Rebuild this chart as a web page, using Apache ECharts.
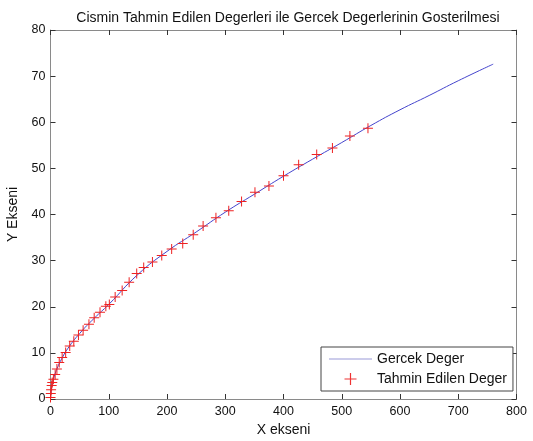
<!DOCTYPE html>
<html><head><meta charset="utf-8">
<script src="https://cdn.jsdelivr.net/npm/echarts@6/dist/echarts.min.js"></script>
<style>html,body{margin:0;padding:0;background:#fff}#c{width:533px;height:441px}</style>
</head><body><div id="c"></div>
<script>
var titleText = 'Cismin Tahmin Edilen Degerleri ile Gercek Degerlerinin Gosterilmesi';
var xName = 'X ekseni';
var yName = 'Y Ekseni';
var lineName = 'Gercek Deger';
var markName = 'Tahmin Edilen Deger';
// true curve
var lineX = [0, 2, 5, 10, 20, 30, 50, 75, 100, 150, 200, 250, 300, 350, 400, 450, 500, 550, 600, 650, 700, 760];
var lineY = [0, 2.5, 4.2, 6.2, 8.9, 11, 14.2, 17.5, 20.5, 27, 32, 36.2, 40.5, 44.4, 48.3, 52, 55.6, 59.3, 62.7, 65.8, 69, 72.6];
// estimated values (markers)
var markX = [0, 0.5, 1, 2, 3, 5, 8, 11, 15, 20, 26, 33, 40, 48, 56, 66, 75, 85, 95, 101, 111, 123, 135, 148, 160, 175, 191, 208, 227, 245, 262, 284, 306, 328, 351, 375, 400, 426, 457, 484, 514, 545];
var markY = [0.3, 1.2, 2.0, 2.9, 3.6, 4.3, 5.3, 6.5, 7.9, 9.0, 10.1, 11.5, 12.5, 13.9, 14.9, 16.2, 17.6, 18.8, 20.1, 20.5, 22.1, 23.5, 25.3, 27.2, 28.5, 29.7, 31.1, 32.5, 33.7, 35.6, 37.5, 39.3, 40.8, 42.8, 44.8, 46.2, 48.4, 50.8, 53.0, 54.4, 57.0, 58.7];

var lineData = lineX.map(function(x, i){ return [x, lineY[i]]; });
var markData = markX.map(function(x, i){ return [x, markY[i]]; });
var cross = 'path://M4.5,0H5.5V4.5H10V5.5H5.5V10H4.5V5.5H0V4.5H4.5Z';
var lineIcon = 'path://M0,0H44V1.2H0Z';
var axisCol = '#8a8a8a';
var font = 'Liberation Sans, Arial, sans-serif';

var chart = echarts.init(document.getElementById('c'), null, {renderer: 'canvas'});
var baseAxis = {
  axisLine: {show: true, onZero: false, lineStyle: {color: axisCol, width: 1}},
  axisTick: {show: true, inside: true, length: 5, lineStyle: {color: '#333'}},
  splitLine: {show: false}
};
chart.setOption({
  animation: false,
  backgroundColor: '#fff',
  title: {text: titleText, left: 283, textAlign: 'center', top: 6,
    textStyle: {fontFamily: font, fontSize: 14, fontWeight: 'normal', color: '#111'}},
  grid: {left: 50.5, right: 16.5, top: 30, bottom: 42, containLabel: false, outerBoundsMode: 'none'},
  xAxis: [
    Object.assign({}, baseAxis, {type: 'value', position: 'bottom', min: 0, max: 800, interval: 100,
      name: xName, nameLocation: 'middle', nameGap: 24,
      nameTextStyle: {fontFamily: font, fontSize: 14, color: '#111'},
      axisLabel: {fontFamily: font, fontSize: 12.5, color: '#111', margin: 6}}),
    Object.assign({}, baseAxis, {type: 'value', position: 'top', min: 0, max: 800, interval: 100,
      axisLabel: {show: false}})
  ],
  yAxis: [
    Object.assign({}, baseAxis, {type: 'value', position: 'left', min: 0, max: 80, interval: 10,
      name: yName, nameLocation: 'middle', nameGap: 30, nameRotate: 90,
      nameTextStyle: {fontFamily: font, fontSize: 14, color: '#111'},
      axisLabel: {fontFamily: font, fontSize: 12.5, color: '#111', margin: 5}}),
    Object.assign({}, baseAxis, {type: 'value', position: 'right', min: 0, max: 80, interval: 10,
      axisLabel: {show: false}})
  ],
  legend: {
    orient: 'vertical', left: 321, top: 347,
    padding: [5, 6, 5, 8], itemGap: 6, itemWidth: 43, itemHeight: 12,
    borderColor: '#444', borderWidth: 1, backgroundColor: '#fff',
    textStyle: {fontFamily: font, fontSize: 14, color: '#111'},
    data: [
      {name: lineName, icon: lineIcon, itemStyle: {color: '#9a9ad8'}},
      {name: markName, icon: cross, itemStyle: {color: '#ee3333'}}
    ]
  },
  series: [
    {name: lineName, type: 'line', data: lineData, symbol: 'none', smooth: true,
      lineStyle: {color: '#4444cc', width: 1}, itemStyle: {color: '#4444cc'}, z: 2},
    {name: markName, type: 'scatter', data: markData, symbol: cross, symbolSize: 10,
      itemStyle: {color: '#ee2222', opacity: 1}, z: 3}
  ]
});
</script></body></html>
